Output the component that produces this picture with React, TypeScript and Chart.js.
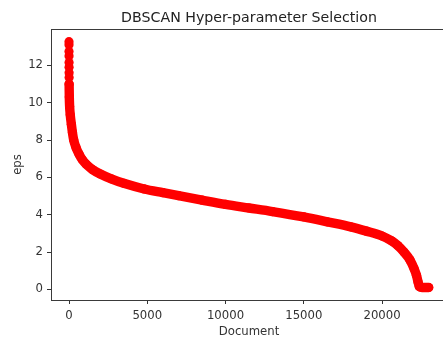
import React, { useEffect, useRef } from 'react';
import { Chart, registerables } from 'chart.js';

Chart.register(...registerables);

const titleText = 'DBSCAN Hyper-parameter Selection';
const xLabel = 'Document';
const yLabel = 'eps';
const xTicks = [0, 5000, 10000, 15000, 20000];
const yTicks = [0, 2, 4, 6, 8, 10, 12];

// isolated large-distance points at the very start (beaded top of the column)
const topDocs = [0, 1, 2, 3, 4, 5, 6, 7];
const topEps = [13.27, 13.1, 12.75, 12.5, 12.15, 11.9, 11.6, 11.35];

// sorted k-distance curve
const curveDocs = [8, 20, 40, 80, 150, 220, 300, 450, 640, 850, 1100, 1500, 2000, 2700, 3500, 4800, 6000, 7000, 8500, 10000, 11500, 13000, 15000, 16500, 18000, 19000, 20000, 20600, 21000, 21400, 21780, 22050, 22200, 22300, 22380, 22550, 22980];
const curveEps = [11.0, 10.3, 9.8, 9.35, 8.85, 8.4, 8.0, 7.6, 7.25, 6.95, 6.7, 6.42, 6.18, 5.92, 5.68, 5.38, 5.18, 5.02, 4.78, 4.55, 4.36, 4.17, 3.88, 3.62, 3.35, 3.12, 2.86, 2.6, 2.35, 2.0, 1.58, 1.1, 0.75, 0.4, 0.15, 0.1, 0.1];

const FONT = '"DejaVu Sans", "Liberation Sans", sans-serif';
const RED = '#ff0000';
const TEXT = '#333333';

const framePlugin = {
  id: 'frame',
  beforeDraw(chart: any) {
    const { ctx, width, height } = chart;
    ctx.save();
    ctx.fillStyle = '#ffffff';
    ctx.fillRect(0, 0, width, height);
    ctx.restore();
  },
  afterDraw(chart: any) {
    const { ctx, chartArea: a } = chart;
    ctx.save();
    ctx.strokeStyle = '#3a3a3a';
    ctx.lineWidth = 1;
    const l = Math.round(a.left) + 0.5;
    const t = Math.round(a.top) + 0.5;
    const r = Math.round(a.right) + 0.5;
    const b = Math.round(a.bottom) + 0.5;
    ctx.strokeRect(l, t, r - l, b - t);
    ctx.fillStyle = '#222222';
    ctx.font = `14.2px ${FONT}`;
    ctx.textAlign = 'center';
    ctx.textBaseline = 'alphabetic';
    ctx.fillText(titleText, (a.left + a.right) / 2, 22);
    ctx.restore();
  },
};

export default function App() {
  const ref = useRef<HTMLCanvasElement | null>(null);

  useEffect(() => {
    if (!ref.current) return;
    const tickFont = { family: FONT, size: 11.7 };
    const chart = new Chart(ref.current, {
      type: 'scatter',
      data: {
        datasets: [
          {
            data: topDocs.map((x, i) => ({ x, y: topEps[i] })),
            showLine: false,
            pointRadius: 4.6,
            pointBackgroundColor: RED,
            pointBorderWidth: 0,
          },
          {
            data: curveDocs.map((x, i) => ({ x, y: curveEps[i] })),
            showLine: true,
            borderColor: RED,
            borderWidth: 9.4,
            borderCapStyle: 'round',
            borderJoinStyle: 'round',
            cubicInterpolationMode: 'monotone',
            pointRadius: 4.6,
            pointBackgroundColor: RED,
            pointBorderWidth: 0,
          },
        ],
      },
      options: {
        responsive: false,
        animation: false,
        events: [],
        layout: { padding: { left: 0, top: 29, right: 13, bottom: 0 } },
        plugins: {
          legend: { display: false },
          title: { display: false },
          tooltip: { enabled: false },
        },
        scales: {
          x: {
            type: 'linear',
            min: -1150,
            max: 24150,
            afterBuildTicks: (s: any) => {
              s.ticks = xTicks.map((v) => ({ value: v }));
            },
            afterFit: (s: any) => {
              s.height = 39;
            },
            ticks: {
              font: tickFont,
              color: TEXT,
              padding: 4.8,
              maxRotation: 0,
              autoSkip: false,
              callback: (v: any) => String(v),
            },
            grid: { drawOnChartArea: false, drawTicks: true, tickLength: 4, color: TEXT },
            border: { display: false },
            title: { display: true, text: xLabel, font: tickFont, color: TEXT, padding: { top: 0, bottom: 0 } },
          },
          y: {
            type: 'linear',
            min: -0.57,
            max: 13.95,
            afterBuildTicks: (s: any) => {
              s.ticks = yTicks.map((v) => ({ value: v }));
            },
            afterFit: (s: any) => {
              s.width = 51;
            },
            ticks: {
              font: tickFont,
              color: TEXT,
              padding: 4,
              autoSkip: false,
              callback: (v: any) => String(v),
            },
            grid: { drawOnChartArea: false, drawTicks: true, tickLength: 4, color: TEXT },
            border: { display: false },
            title: { display: true, text: yLabel, font: tickFont, color: TEXT, padding: { top: 11, bottom: 0 } },
          },
        },
      },
      plugins: [framePlugin],
    } as any);
    return () => chart.destroy();
  }, []);

  return (
    <div
      style={{
        position: 'fixed',
        left: 0,
        top: 0,
        width: 443,
        height: 339,
        overflow: 'hidden',
        background: '#ffffff',
      }}
    >
      <canvas ref={ref} width={460} height={339} style={{ display: 'block' }} />
    </div>
  );
}
